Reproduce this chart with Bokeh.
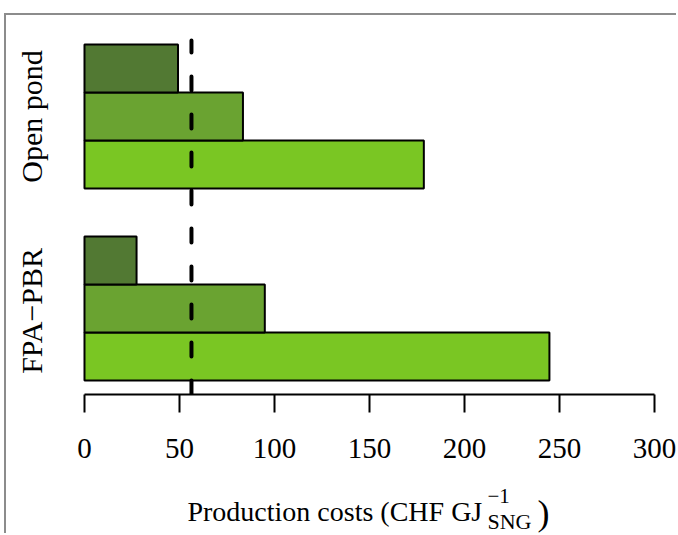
import math
from bokeh.plotting import figure
from bokeh.layouts import column
from bokeh.models import FixedTicker, ColumnDataSource, Range1d
from bokeh.core.properties import value
from bokeh.embed import file_html
from bokeh.resources import INLINE

# ---- data ----
systems = ["FPA\u2212PBR", "Open pond"]
costs_s1 = [244.7, 178.6]   # bottom (light) bars
costs_s2 = [94.9, 83.4]     # middle bars
costs_s3 = [27.4, 49.2]     # top (dark) bars
reference_cost = [56.3]
x_ticks = [0, 50, 100, 150, 200, 250, 300]

colors = ["#7ac623", "#6aa331", "#527933"]
FONT = "Liberation Serif"

xr = Range1d(-41.05, 311.58)
W = 670

p = figure(width=W, height=465, output_backend="svg", toolbar_location=None,
           x_range=xr, y_range=Range1d(0.70833, 8.6042),
           min_border_left=0, min_border_right=0, min_border_top=0,
           min_border_bottom=86, y_axis_location=None)
p.outline_line_color = None
p.xgrid.visible = False
p.ygrid.visible = False

series = [costs_s1, costs_s2, costs_s3]
ys, rights, fills = [], [], []
for gi, _ in enumerate(systems):
    for si, vals in enumerate(series):
        ys.append(gi * 4 + 1.5 + si)
        rights.append(vals[gi])
        fills.append(colors[si])
src = ColumnDataSource(dict(y=ys, right=rights, fill=fills))
p.hbar(y="y", left=0, right="right", height=1.0, fill_color="fill",
       line_color="black", line_width=2, source=src)

# dashed reference line
p.segment(x0=reference_cost[0], y0=0.70833, x1=reference_cost[0], y1=8.083,
          line_color="black", line_width=4, line_dash="14 24", line_cap="round")

# group labels
p.text(x=[-28.0, -28.0], y=[2.45, 6.5], text=systems, angle=math.pi / 2,
       text_align="center", text_baseline="alphabetic",
       text_font=value(FONT), text_font_size="30px", text_color="black")

ax = p.xaxis[0]
ax.ticker = FixedTicker(ticks=x_ticks)
ax.bounds = (0, 300)
ax.axis_line_width = 2
ax.axis_line_color = "black"
ax.major_tick_line_width = 2
ax.major_tick_line_color = "black"
ax.major_tick_in = 0
ax.major_tick_out = 18
ax.minor_tick_line_color = None
ax.major_label_text_font = FONT
ax.major_label_text_font_size = "29px"
ax.major_label_text_color = "black"
ax.major_label_standoff = 26

# axis title panel (super/subscript built from separate texts)
t = figure(width=W, height=53, output_backend="svg", toolbar_location=None,
           x_range=xr, y_range=Range1d(0, 53), min_border=0,
           x_axis_location=None, y_axis_location=None)
t.outline_line_color = None
t.xgrid.visible = False
t.ygrid.visible = False

def txt(x, y, s, size):
    t.text(x=[x], y=[y], text=[s], text_font=value(FONT), text_font_size=size,
           text_color="black", text_align="left", text_baseline="alphabetic")

txt(54.2, 22.5, "Production costs (CHF GJ", "28px")
txt(212.1, 38, "\u22121", "21px")
txt(212.1, 12.5, "SNG", "22px")
txt(238.4, 21, ")", "36px")

layout = column(p, t, spacing=0)
layout.styles = {"margin-left": "4px", "margin-top": "13px",
                 "border-left": "2px solid #8c8c8c", "border-top": "2px solid #8c8c8c"}

open("out.html", "w").write(file_html(layout, INLINE))
